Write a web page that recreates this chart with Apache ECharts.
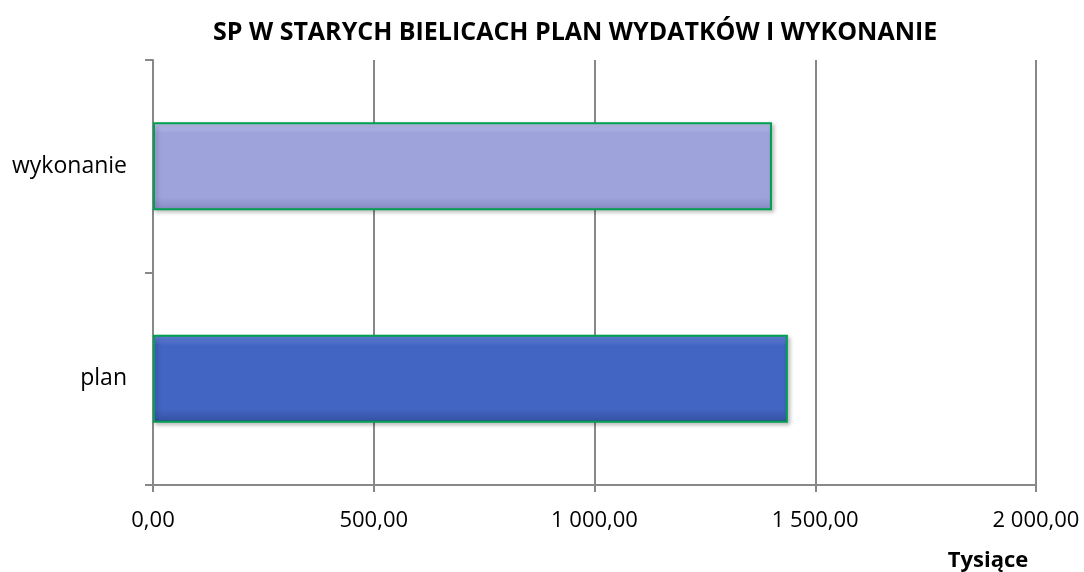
<!DOCTYPE html>
<html>
<head>
<meta charset="utf-8">
<script src="https://cdn.jsdelivr.net/npm/echarts@6/dist/echarts.min.js"></script>
<style>
  html, body { margin: 0; padding: 0; background: #fff; }
  #main { width: 1084px; height: 572px; }
</style>
</head>
<body>
<div id="main"></div>
<script>
// dane
var categories = ['plan', 'wykonanie'];
var values = [1438, 1402];
var barColors = [
  ['#6a8ae0', '#4264c2', '#33509f'],
  ['#c4c8f6', '#9ea3dc', '#868bc4']
];
var xMax = 2000;
var xStep = 500;

function fmt(v) {
  var s = v.toFixed(2).replace('.', ',');
  var parts = s.split(',');
  parts[0] = parts[0].replace(/\B(?=(\d{3})+(?!\d))/g, ' ');
  return parts.join(',');
}

var myChart = echarts.init(document.getElementById('main'));
myChart.setOption({
  animation: false,
  textStyle: { fontFamily: '"Open Sans", "Liberation Sans", sans-serif' },
  title: {
    text: 'SP W STARYCH BIELICACH PLAN WYDATKÓW I WYKONANIE',
    left: 208,
    top: 15,
    textStyle: { fontSize: 25, fontWeight: 'bold', color: '#000' }
  },
  grid: { left: 153, right: 48, top: 60, bottom: 85 },
  xAxis: {
    type: 'value',
    min: 0,
    max: xMax,
    interval: xStep,
    name: 'Tysiące',
    nameLocation: 'end',
    nameGap: 0,
    nameTextStyle: {
      fontSize: 22, fontWeight: 'bold', color: '#000',
      align: 'center', verticalAlign: 'top', padding: [65, 96, 0, 0]
    },
    axisLine: { show: true, lineStyle: { color: '#888', width: 2 } },
    axisTick: { show: true, length: 7, lineStyle: { color: '#888', width: 2 } },
    axisLabel: { formatter: fmt, fontSize: 22, color: '#000', margin: 25 },
    splitLine: { show: true, lineStyle: { color: '#888', width: 2 } }
  },
  yAxis: {
    type: 'category',
    data: categories,
    axisLine: { show: true, lineStyle: { color: '#888', width: 2 } },
    axisTick: { show: true, length: 8, lineStyle: { color: '#888', width: 2 } },
    axisLabel: { fontSize: 23, color: '#000', margin: 26 },
    splitLine: { show: false }
  },
  series: [{
    type: 'bar',
    barWidth: 88,
    data: values.map(function (v, i) {
      return {
        value: v,
        itemStyle: {
          color: new echarts.graphic.LinearGradient(0, 0, 0, 1, [
            { offset: 0, color: barColors[i][0] },
            { offset: 0.12, color: barColors[i][1] },
            { offset: 0.85, color: barColors[i][1] },
            { offset: 1, color: barColors[i][2] }
          ]),
          borderColor: '#00a050',
          borderWidth: 2,
          shadowColor: 'rgba(0,0,0,0.25)',
          shadowBlur: 4,
          shadowOffsetX: 2,
          shadowOffsetY: 2
        }
      };
    })
  }]
});
</script>
</body>
</html>
